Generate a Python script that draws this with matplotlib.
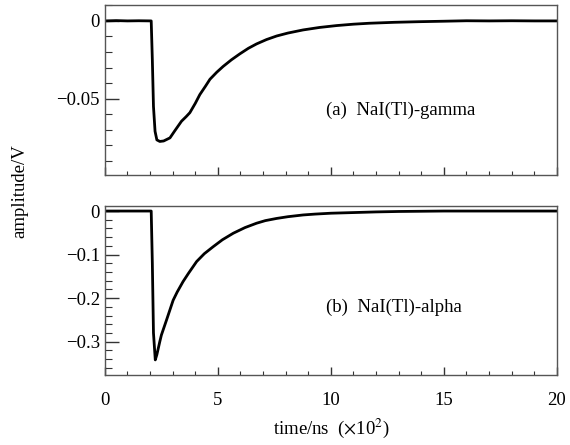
import matplotlib
matplotlib.use("Agg")
import matplotlib.pyplot as plt
from matplotlib.ticker import MultipleLocator

plt.rcParams['font.family'] = ['Liberation Serif', 'DejaVu Serif']
plt.rcParams['mathtext.fontset'] = 'stix'

# NaI(Tl) gamma pulse (time in 1e2 ns, amplitude in V)
t_gamma = [0, 0.5, 1.0, 1.5, 2.05, 2.10, 2.15, 2.22, 2.30, 2.43, 2.60, 2.88, 3.10,
           3.39, 3.60, 3.76, 4.00, 4.20, 4.45, 4.65, 4.95, 5.23, 5.60, 5.97, 6.35,
           6.71, 7.15, 7.60, 8.10, 8.77, 9.50, 10.25, 11.0, 11.7, 12.8, 13.9, 15.0,
           16.0, 17.0, 18.0, 19.0, 20.0]
v_gamma = [0, 0.0002, 0, 0.0001, 0, -0.025, -0.055, -0.071, -0.0765, -0.0775, -0.0772,
           -0.0752, -0.0705, -0.0645, -0.0615, -0.0590, -0.0530, -0.0474, -0.0420,
           -0.0375, -0.0330, -0.0293, -0.0250, -0.0212, -0.0176, -0.0148, -0.0120,
           -0.0097, -0.0078, -0.0058, -0.0042, -0.0030, -0.0021, -0.0015, -0.0009,
           -0.0005, -0.0002, 0.0001, 0, 0.0001, 0, 0]

# NaI(Tl) alpha pulse
t_alpha = [0, 1.0, 2.05, 2.10, 2.15, 2.23, 2.30, 2.43, 2.50, 2.73, 3.02, 3.20, 3.46,
           3.70, 4.06, 4.40, 4.79, 5.20, 5.68, 6.20, 6.71, 7.10, 7.60, 8.10, 8.77,
           9.30, 10.0, 11.0, 12.0, 13.0, 14.0, 15.0, 20.0]
v_alpha = [0, 0, 0, -0.12, -0.28, -0.342, -0.330, -0.300, -0.285, -0.250, -0.205,
           -0.186, -0.162, -0.143, -0.116, -0.098, -0.082, -0.066, -0.051, -0.038,
           -0.028, -0.022, -0.017, -0.013, -0.009, -0.007, -0.005, -0.0035, -0.002,
           -0.001, -0.0005, 0, 0]

label_a = "(a)  NaI(Tl)-gamma"
label_b = "(b)  NaI(Tl)-alpha"

fig = plt.figure(figsize=(5.7, 4.45), dpi=100)
ax1 = fig.add_axes([0.184, 0.607, 0.793, 0.382])
ax2 = fig.add_axes([0.184, 0.157, 0.793, 0.380])

spine_col = '#555555'
for ax in (ax1, ax2):
    for s in ax.spines.values():
        s.set_color(spine_col)
        s.set_linewidth(1.0)
    ax.set_xlim(0, 20)
    ax.xaxis.set_major_locator(MultipleLocator(5))
    ax.xaxis.set_minor_locator(MultipleLocator(1))
    ax.tick_params(which='both', direction='in', top=False, right=False,
                   color='#333333', labelsize=13.5)
    ax.tick_params(which='major', length=6, width=1)
    ax.tick_params(which='minor', length=3, width=0.8)
    ax.tick_params(axis='y', which='major', length=10)
    ax.tick_params(axis='y', which='minor', length=5)

ax1.plot(t_gamma, v_gamma, color='black', lw=2, solid_joinstyle='round')
ax1.set_ylim(-0.099, 0.0103)
ax1.yaxis.set_minor_locator(MultipleLocator(0.01))
ax1.set_yticks([0, -0.05])
ax1.set_yticklabels(['0', '\u22120.05'])
ax1.tick_params(axis='x', labelbottom=False)
ax1.text(0.49, 0.38, label_a, transform=ax1.transAxes, fontsize=13.5,
         ha='left', va='center')

ax2.plot(t_alpha, v_alpha, color='black', lw=2, solid_joinstyle='round')
ax2.set_ylim(-0.377, 0.0115)
ax2.set_yticks([0, -0.1, -0.2, -0.3])
ax2.set_yticklabels(['0', '\u22120.1', '\u22120.2', '\u22120.3'])
ax2.yaxis.set_minor_locator(MultipleLocator(0.02))
ax2.set_xticks([0, 5, 10, 15, 20])
ax2.set_xticklabels(['0', '5', '10', '15', '20'])
ax2.tick_params(axis='x', pad=12)
ax2.text(0.49, 0.40, label_b, transform=ax2.transAxes, fontsize=13.5,
         ha='left', va='center')

fig.text(0.581, 0.038, r"time/ns  ($\times$10$^{2}$)", ha='center', va='center',
         fontsize=13.5)
fig.text(0.035, 0.57, "amplitude/V", rotation=90, ha='center', va='center',
         fontsize=13.5)

fig.savefig("out.png", dpi=100)
